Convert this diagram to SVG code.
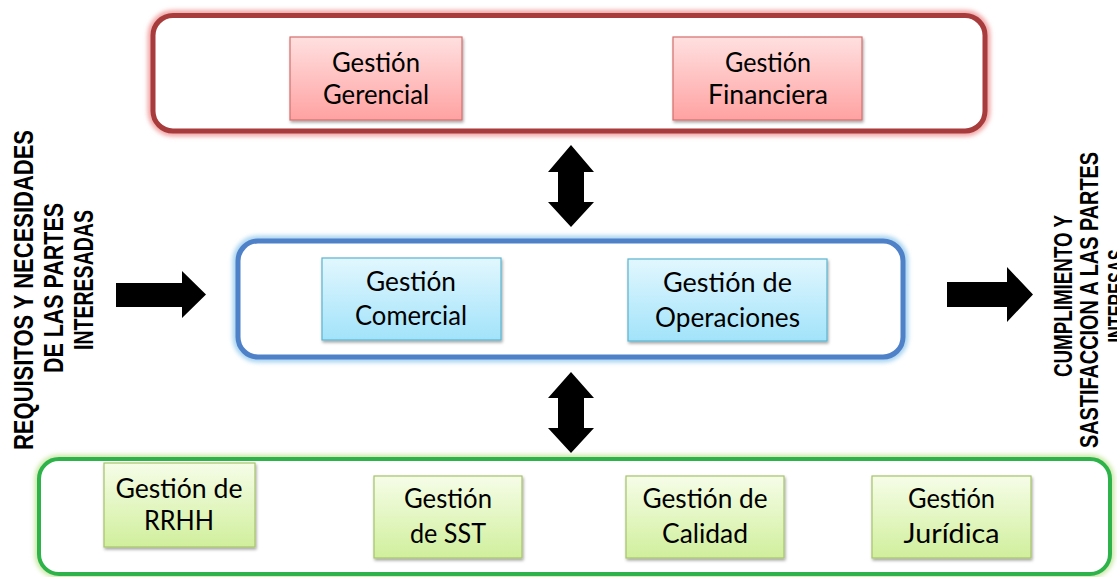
<svg xmlns="http://www.w3.org/2000/svg" width="1117" height="577" viewBox="0 0 1117 577">
<defs>
<linearGradient id="gRed" x1="0" y1="0" x2="0" y2="1"><stop offset="0" stop-color="#ffe0e0"/><stop offset="1" stop-color="#ffa2a2"/></linearGradient>
<linearGradient id="gBlue" x1="0" y1="0" x2="0" y2="1"><stop offset="0" stop-color="#e2f7fe"/><stop offset="1" stop-color="#a2e3fa"/></linearGradient>
<linearGradient id="gGreen" x1="0" y1="0" x2="0" y2="1"><stop offset="0" stop-color="#f6fde8"/><stop offset="1" stop-color="#d0ef9c"/></linearGradient>
<filter id="sh" x="-10%" y="-10%" width="125%" height="130%"><feDropShadow dx="1" dy="2" stdDeviation="1.5" flood-color="#000" flood-opacity="0.35"/></filter>
<filter id="glow" x="-5%" y="-20%" width="110%" height="140%"><feGaussianBlur stdDeviation="2"/></filter>
</defs>
<style>
.box{stroke-width:1.2;filter:url(#sh)}
.red{fill:url(#gRed);stroke:#d66f6c}
.blue{fill:url(#gBlue);stroke:#5ab4cf}
.green{fill:url(#gGreen);stroke:#a6c46a}
.t{font-family:Lato,"Liberation Sans",sans-serif;font-size:27px;fill:#000;text-anchor:middle}
.v{font-family:"Liberation Sans",Arial,sans-serif;font-weight:bold;fill:#000;text-anchor:middle}
.arr{fill:#000}
</style>

<g id="container-top">
<rect x="153" y="15.5" width="832" height="115.5" rx="20" fill="none" stroke="#f2a8a8" stroke-width="11" filter="url(#glow)"/>
<rect x="153" y="15.5" width="832" height="115.5" rx="20" fill="#fff" stroke="#a83b3b" stroke-width="5"/>
</g>
<g id="container-middle">
<rect x="238" y="241" width="665" height="116" rx="20" fill="none" stroke="#a9d4f0" stroke-width="11" filter="url(#glow)"/>
<rect x="238" y="241" width="665" height="116" rx="20" fill="#fff" stroke="#4f81c9" stroke-width="5"/>
</g>
<g id="container-bottom">
<rect x="39" y="459" width="1071" height="115" rx="20" fill="none" stroke="#cde9a8" stroke-width="9" filter="url(#glow)"/>
<rect x="39" y="459" width="1071" height="115" rx="20" fill="#fff" stroke="#2eb34b" stroke-width="4"/>
</g>

<g id="gestion-gerencial">
<rect class="box red" x="290" y="37" width="172" height="83"/>
<text class="t" x="376" y="72" textLength="88" lengthAdjust="spacingAndGlyphs">Gestión</text>
<text class="t" x="376" y="104" textLength="106" lengthAdjust="spacingAndGlyphs">Gerencial</text>
</g>
<g id="gestion-financiera">
<rect class="box red" x="673" y="37" width="189" height="83"/>
<text class="t" x="768" y="72" textLength="86" lengthAdjust="spacingAndGlyphs">Gestión</text>
<text class="t" x="768" y="104" textLength="120" lengthAdjust="spacingAndGlyphs">Financiera</text>
</g>
<g id="gestion-comercial">
<rect class="box blue" x="322" y="258" width="179" height="82"/>
<text class="t" x="411" y="291" textLength="90" lengthAdjust="spacingAndGlyphs">Gestión</text>
<text class="t" x="411" y="325" textLength="112" lengthAdjust="spacingAndGlyphs">Comercial</text>
</g>
<g id="gestion-operaciones">
<rect class="box blue" x="628" y="259" width="199" height="82"/>
<text class="t" x="727.5" y="292" textLength="129" lengthAdjust="spacingAndGlyphs">Gestión de</text>
<text class="t" x="727.5" y="327" textLength="145" lengthAdjust="spacingAndGlyphs">Operaciones</text>
</g>
<g id="gestion-rrhh">
<rect class="box green" x="104" y="463" width="151" height="84"/>
<text class="t" x="179" y="498" textLength="127" lengthAdjust="spacingAndGlyphs">Gestión de</text>
<text class="t" x="179" y="530" textLength="70" lengthAdjust="spacingAndGlyphs">RRHH</text>
</g>
<g id="gestion-sst">
<rect class="box green" x="374" y="476" width="148" height="82"/>
<text class="t" x="448" y="508" textLength="88" lengthAdjust="spacingAndGlyphs">Gestión</text>
<text class="t" x="448" y="543" textLength="76" lengthAdjust="spacingAndGlyphs">de SST</text>
</g>
<g id="gestion-calidad">
<rect class="box green" x="626" y="476" width="158" height="82"/>
<text class="t" x="705" y="508" textLength="125" lengthAdjust="spacingAndGlyphs">Gestión de</text>
<text class="t" x="705" y="543" textLength="86" lengthAdjust="spacingAndGlyphs">Calidad</text>
</g>
<g id="gestion-juridica">
<rect class="box green" x="872" y="476" width="159" height="82"/>
<text class="t" x="951.5" y="508" textLength="87" lengthAdjust="spacingAndGlyphs">Gestión</text>
<text class="t" x="951.5" y="543" textLength="96" lengthAdjust="spacingAndGlyphs">Jurídica</text>
</g>

<g id="label-left">
<text class="v" font-size="27" transform="translate(33,290) rotate(-90)" textLength="320" lengthAdjust="spacingAndGlyphs">REQUISITOS Y NECESIDADES</text>
<text class="v" font-size="27" transform="translate(63,288) rotate(-90)" textLength="170" lengthAdjust="spacingAndGlyphs">DE LAS PARTES</text>
<text class="v" font-size="27" transform="translate(93,280) rotate(-90)" textLength="140" lengthAdjust="spacingAndGlyphs">INTERESADAS</text>
</g>
<g id="label-right">
<text class="v" font-size="26" transform="translate(1072,296) rotate(-90)" textLength="162" lengthAdjust="spacingAndGlyphs">CUMPLIMIENTO Y</text>
<text class="v" font-size="26" transform="translate(1098,300) rotate(-90)" textLength="296" lengthAdjust="spacingAndGlyphs">SASTIFACCION A LAS PARTES</text>
<text class="v" font-size="26" transform="translate(1126,296) rotate(-90)" textLength="93" lengthAdjust="spacingAndGlyphs">INTERESAS</text>
</g>

<g id="connectors">
<polygon class="arr" points="116,283 182,283 182,271 206,294.5 182,318 182,307 116,307"/>
<polygon class="arr" points="947,282 1007,282 1007,267 1033,294.5 1007,322 1007,307 947,307"/>
<polygon class="arr" points="571,145 594,172 584,172 584,202 594,202 571,227 548,202 558,202 558,172 548,172"/>
<polygon class="arr" points="571,372 594,398 584,398 584,428 594,428 571,453 548,428 558,428 558,398 548,398"/>
</g>
</svg>
